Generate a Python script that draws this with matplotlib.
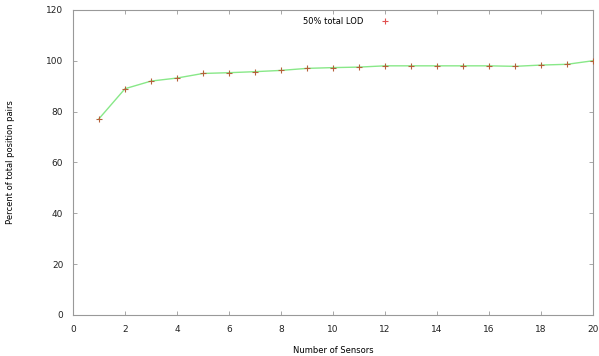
import matplotlib
matplotlib.use('Agg')
import matplotlib.pyplot as plt

# Data
sensors = list(range(1, 21))
percent = [77.2, 89.0, 92.0, 93.2, 95.0, 95.3, 95.7, 96.2, 97.0, 97.3,
           97.5, 98.0, 98.0, 98.0, 98.0, 98.0, 97.8, 98.3, 98.6, 100.0]
xticks = list(range(0, 21, 2))
yticks = list(range(0, 121, 20))

fig = plt.figure(figsize=(5.99, 3.56), dpi=100)
ax = fig.add_axes([0.1219, 0.1152, 0.868, 0.857])

ax.plot(sensors, percent, '-', color='#88e888', lw=1.0, zorder=2)
ax.plot(sensors, percent, '+', color='#b5603a', ms=5, mew=0.8, zorder=3,
        label='50% total LOD')

ax.set_xlim(0, 20)
ax.set_ylim(0, 120)
ax.set_xticks(xticks)
ax.set_yticks(yticks)
ax.tick_params(direction='in', top=True, right=True, length=3, width=0.6,
               colors='#999999', labelcolor='#222222', labelsize=6.5, pad=7)
for s in ax.spines.values():
    s.set_color('#999999')
    s.set_linewidth(0.8)

ax.set_xlabel('Number of Sensors', fontsize=6, labelpad=9)
ax.set_ylabel('Percent of total position pairs', fontsize=6, labelpad=22)

leg = ax.legend(loc='upper center', bbox_to_anchor=(0.535, 1.0), frameon=False,
                fontsize=6, markerfirst=False, handlelength=3.5)
leg.legend_handles[0].set_color('#e05050')

fig.savefig('out.png', dpi=100)
